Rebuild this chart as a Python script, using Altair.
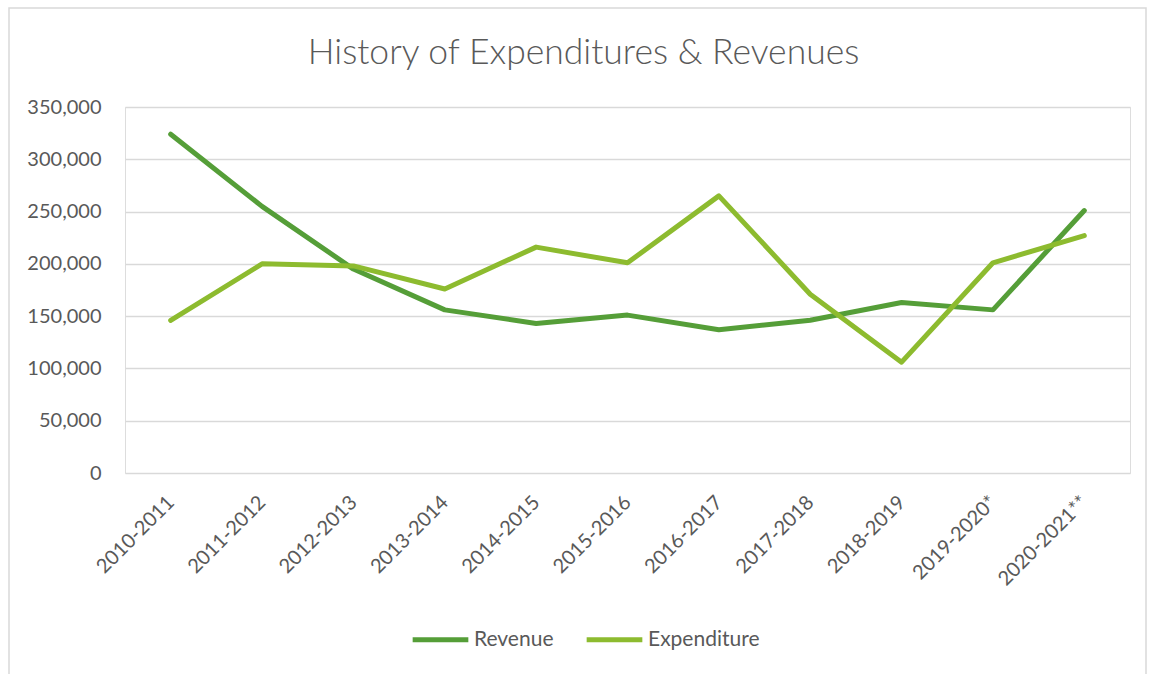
import altair as alt
import pandas as pd

years = ["2010-2011", "2011-2012", "2012-2013", "2013-2014", "2014-2015", "2015-2016",
         "2016-2017", "2017-2018", "2018-2019", "2019-2020*", "2020-2021**"]
revenue = [324000, 255000, 195000, 156000, 143000, 151000, 137000, 146000, 163000, 156000, 251000]
expenditure = [146000, 200000, 198000, 176000, 216000, 201000, 265000, 171000, 106000, 201000, 227000]
series = ["Revenue", "Expenditure"]
colors = ["#559E38", "#8DBB2F"]

rows = []
for i, y in enumerate(years):
    rows.append({"year": y, "series": "Revenue", "value": revenue[i], "order": 0})
    rows.append({"year": y, "series": "Expenditure", "value": expenditure[i], "order": 1})
df = pd.DataFrame(rows)

FONT = "Lato"
GREY = "#595959"

border = alt.Chart(pd.DataFrame({"a": [0]})).mark_rect(
    fill=None, stroke="#d9d9d9", strokeWidth=1.5
).encode(
    x=alt.value(-116), x2=alt.value(1021), y=alt.value(-99), y2=alt.value(580)
)

lines = alt.Chart(df).mark_line(strokeWidth=5, strokeCap="round", strokeJoin="round").encode(
    x=alt.X("year:N", sort=years, scale=alt.Scale(type="point", padding=0.5),
            axis=alt.Axis(title=None, labelAngle=-45, labelAlign="right", labelBaseline="middle",
                          labelPadding=26, ticks=False, domain=False, grid=False,
                          labelFont=FONT, labelFontSize=20, labelColor=GREY)),
    y=alt.Y("value:Q", scale=alt.Scale(domain=[0, 350000], nice=False),
            axis=alt.Axis(title=None, values=list(range(0, 350001, 50000)), format=",.0f",
                          ticks=False, domain=False, gridColor="#d9d9d9", gridWidth=1.5,
                          labelFont=FONT, labelFontSize=20, labelColor=GREY, labelPadding=24)),
    color=alt.Color("series:N", scale=alt.Scale(domain=series, range=colors),
                    legend=alt.Legend(title=None, orient="none", direction="horizontal",
                                      legendX=285, legendY=502, symbolType="stroke",
                                      symbolSize=3100, symbolStrokeWidth=5,
                                      labelFont=FONT, labelFontSize=21, labelColor=GREY,
                                      labelOffset=3, columnPadding=22)),
    detail="series:N",
    order="order:Q",
)

chart = alt.layer(border, lines).properties(
    width=1005, height=366,
    title=alt.TitleParams("History of Expenditures & Revenues", font=FONT, fontSize=35.5,
                          fontWeight=300, color=GREY, anchor="middle", frame="group",
                          dx=-44, offset=-64),
    autosize=alt.AutoSizeParams(type="none"),
    padding={"left": 125, "top": 107, "right": 24, "bottom": 201},
).configure_view(stroke=None).configure(background="white")

chart.save("out.html", embed_options={"renderer": "svg", "actions": False})
